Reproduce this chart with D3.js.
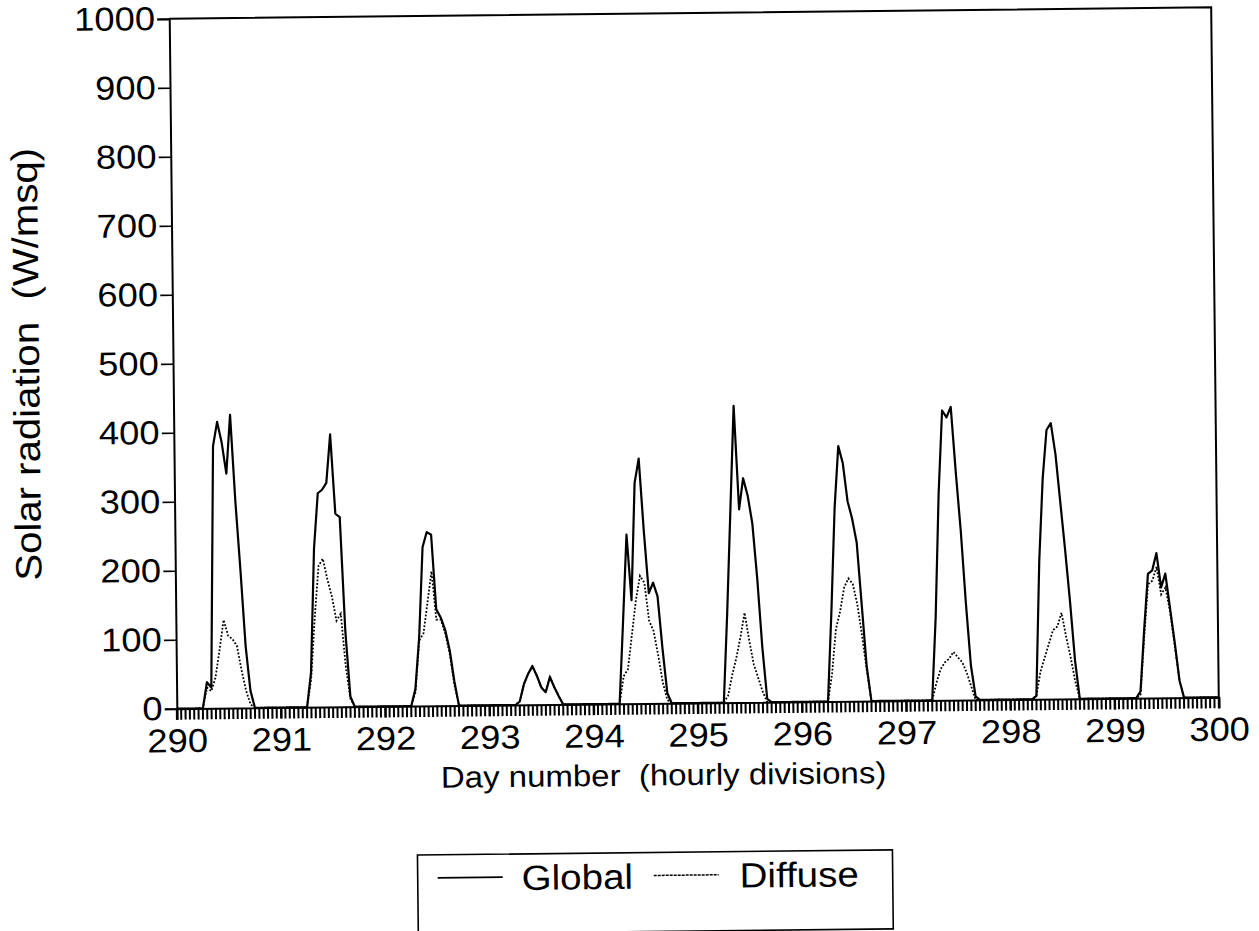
<!DOCTYPE html>
<html>
<head>
<meta charset="utf-8">
<script src="https://cdn.jsdelivr.net/npm/d3@7/dist/d3.min.js"></script>
<style>
  body { margin: 0; background: #fff; }
  text { font-family: "Liberation Sans", Arial, Helvetica, sans-serif; fill: #000; }
</style>
</head>
<body>
<div id="chart"></div>
<script>
// day numbers, one row of 24 hourly readings per day
var days = [290, 291, 292, 293, 294, 295, 296, 297, 298, 299];

var globalRad = [
  [0,0,0,0,0,0, 0,38,30,380,415,385,340,425,300,200,90,25, 0,0,0,0,0,0],
  [0,0,0,0,0,0, 0,50,230,310,315,325,395,280,275,110,15,0, 0,0,0,0,0,0],
  [0,0,0,0,0,0, 0,25,100,230,252,248,140,128,110,80,35,0, 0,0,0,0,0,0],
  [0,0,0,0,0,0, 0,5,30,45,56,42,25,18,40,25,12,0, 0,0,0,0,0,0],
  [0,0,0,0,0,0, 0,120,245,150,320,355,250,160,175,155,80,15, 0,0,0,0,0,0],
  [0,0,0,0,0,0, 0,130,280,430,280,325,300,260,180,80,5,0, 0,0,0,0,0,0],
  [0,0,0,0,0,0, 0,130,280,370,345,290,265,230,140,50,0,0, 0,0,0,0,0,0],
  [0,0,0,0,0,0, 0,120,300,420,410,425,330,245,140,50,5,0, 0,0,0,0,0,0],
  [0,0,0,0,0,0, 5,200,320,390,400,355,285,215,140,55,0,0, 0,0,0,0,0,0],
  [0,0,0,0,0,0, 10,100,180,185,210,160,180,130,80,25,0,0, 0,0,0,0,0,0]
];

var diffuseRad = [
  [0,0,0,0,0,0, 0,30,25,45,85,128,105,100,90,55,25,5, 0,0,0,0,0,0],
  [0,0,0,0,0,0, 0,40,130,205,215,185,160,125,135,60,12,0, 0,0,0,0,0,0],
  [0,0,0,0,0,0, 0,20,95,105,150,195,125,125,105,75,30,0, 0,0,0,0,0,0],
  [0,0,0,0,0,0, 0,5,30,45,56,42,25,18,40,25,12,0, 0,0,0,0,0,0],
  [0,0,0,0,0,0, 0,40,50,100,150,185,175,120,105,70,30,5, 0,0,0,0,0,0],
  [0,0,0,0,0,0, 0,10,40,65,95,130,90,55,35,15,0,0, 0,0,0,0,0,0],
  [0,0,0,0,0,0, 0,40,105,130,165,178,170,140,95,45,0,0, 0,0,0,0,0,0],
  [0,0,0,0,0,0, 0,25,45,55,60,70,62,55,40,20,0,0, 0,0,0,0,0,0],
  [0,0,0,0,0,0, 5,40,60,80,100,105,125,90,60,25,0,0, 0,0,0,0,0,0],
  [0,0,0,0,0,0, 5,90,165,170,190,150,160,125,75,25,0,0, 0,0,0,0,0,0]
];

var yTicks = [0, 100, 200, 300, 400, 500, 600, 700, 800, 900, 1000];
var xTicks = [290, 291, 292, 293, 294, 295, 296, 297, 298, 299, 300];
var seriesNames = ["Global", "Diffuse"];

var svgWidth = 1259;
var svgHeight = 931;
var margin = { top: 13, left: 173 };
var width = 1042;
var height = 690;

var svg = d3.select("#chart")
  .append("svg")
  .attr("width", svgWidth)
  .attr("height", svgHeight);

// the scanned figure is slightly tilted
var page = svg.append("g")
  .attr("transform", "rotate(-0.63, 694, 358)");

var chartGroup = page.append("g")
  .attr("transform", `translate(${margin.left}, ${margin.top})`);

function toPoints(rows) {
  var pts = [];
  rows.forEach(function (row, i) {
    row.forEach(function (v, h) {
      pts.push({ x: days[i] + h / 24, y: v });
    });
  });
  pts.push({ x: 300, y: 0 });
  return pts;
}

var xScale = d3.scaleLinear().domain([290, 300]).range([0, width]);
var yScale = d3.scaleLinear().domain([0, 1000]).range([height, 0]);

// hourly minor ticks along the bottom
var hourTicks = d3.range(0, 241).map(h => 290 + h / 24);
chartGroup.append("g")
  .selectAll("line")
  .data(hourTicks)
  .enter()
  .append("line")
  .attr("x1", d => xScale(d))
  .attr("x2", d => xScale(d))
  .attr("y1", height)
  .attr("y2", height + 11)
  .attr("stroke", "black")
  .attr("stroke-width", 2);

var bottomAxis = d3.axisBottom(xScale).tickValues(xTicks).tickSize(11).tickPadding(9)
  .tickFormat(d3.format("d"));
chartGroup.append("g")
  .attr("transform", `translate(0, ${height})`)
  .call(bottomAxis)
  .call(g => g.select(".domain").attr("stroke-width", 2))
  .call(g => g.selectAll(".tick line").attr("stroke", "black").attr("stroke-width", 2))
  .call(g => g.selectAll("text").attr("font-size", "33px").attr("font-family", null)
    .attr("transform", "scale(1.1,1)"));

var leftAxis = d3.axisLeft(yScale).tickValues(yTicks).tickSize(12).tickPadding(1)
  .tickFormat(d3.format("d"));
chartGroup.append("g")
  .call(leftAxis)
  .call(g => g.select(".domain").attr("stroke-width", 2))
  .call(g => g.selectAll("line").attr("stroke-width", 1.6))
  .call(g => g.selectAll("text").attr("font-size", "33px").attr("font-family", null)
    .attr("transform", "scale(1.1,1)"));

// top and right frame
chartGroup.append("path")
  .attr("d", `M0,0H${width}V${height}`)
  .attr("fill", "none")
  .attr("stroke", "#000")
  .attr("stroke-width", 2);

var line = d3.line()
  .x(d => xScale(d.x))
  .y(d => yScale(d.y));

chartGroup.append("path")
  .datum(toPoints(diffuseRad))
  .attr("d", line)
  .attr("fill", "none")
  .attr("stroke", "#000")
  .attr("stroke-width", 1.8)
  .attr("stroke-dasharray", "1.8,1.8");

chartGroup.append("path")
  .datum(toPoints(globalRad))
  .attr("d", line)
  .attr("fill", "none")
  .attr("stroke", "#000")
  .attr("stroke-width", 2.2)
  .attr("stroke-linejoin", "round");

// axis titles
page.append("text")
  .attr("transform", "translate(659, 785) scale(1.1,1)")
  .attr("text-anchor", "middle")
  .attr("font-size", "30px")
  .text("Day number\u00a0 (hourly divisions)");

page.append("text")
  .attr("transform", "translate(39, 357) rotate(-90) scale(1.1,1)")
  .attr("text-anchor", "middle")
  .attr("font-size", "36.5px")
  .text("Solar radiation\u00a0 (W/msq)");

// legend
var legend = page.append("g").attr("transform", "translate(412, 852)");
legend.append("rect")
  .attr("width", 475)
  .attr("height", 79)
  .attr("fill", "none")
  .attr("stroke", "#000")
  .attr("stroke-width", 1.6);

var legendLineX = [20, 236];
var legendTextX = [104, 322];
seriesNames.forEach(function (name, i) {
  legend.append("line")
    .attr("x1", legendLineX[i]).attr("x2", legendLineX[i] + 65)
    .attr("y1", 23).attr("y2", 23)
    .attr("stroke", "#000")
    .attr("stroke-width", i === 0 ? 1.8 : 1.5)
    .attr("stroke-dasharray", i === 0 ? null : "3,1");
  legend.append("text")
    .attr("transform", `translate(${legendTextX[i]}, 36) scale(1.1,1)`)
    .attr("font-size", "35px")
    .text(name);
});
</script>
</body>
</html>
